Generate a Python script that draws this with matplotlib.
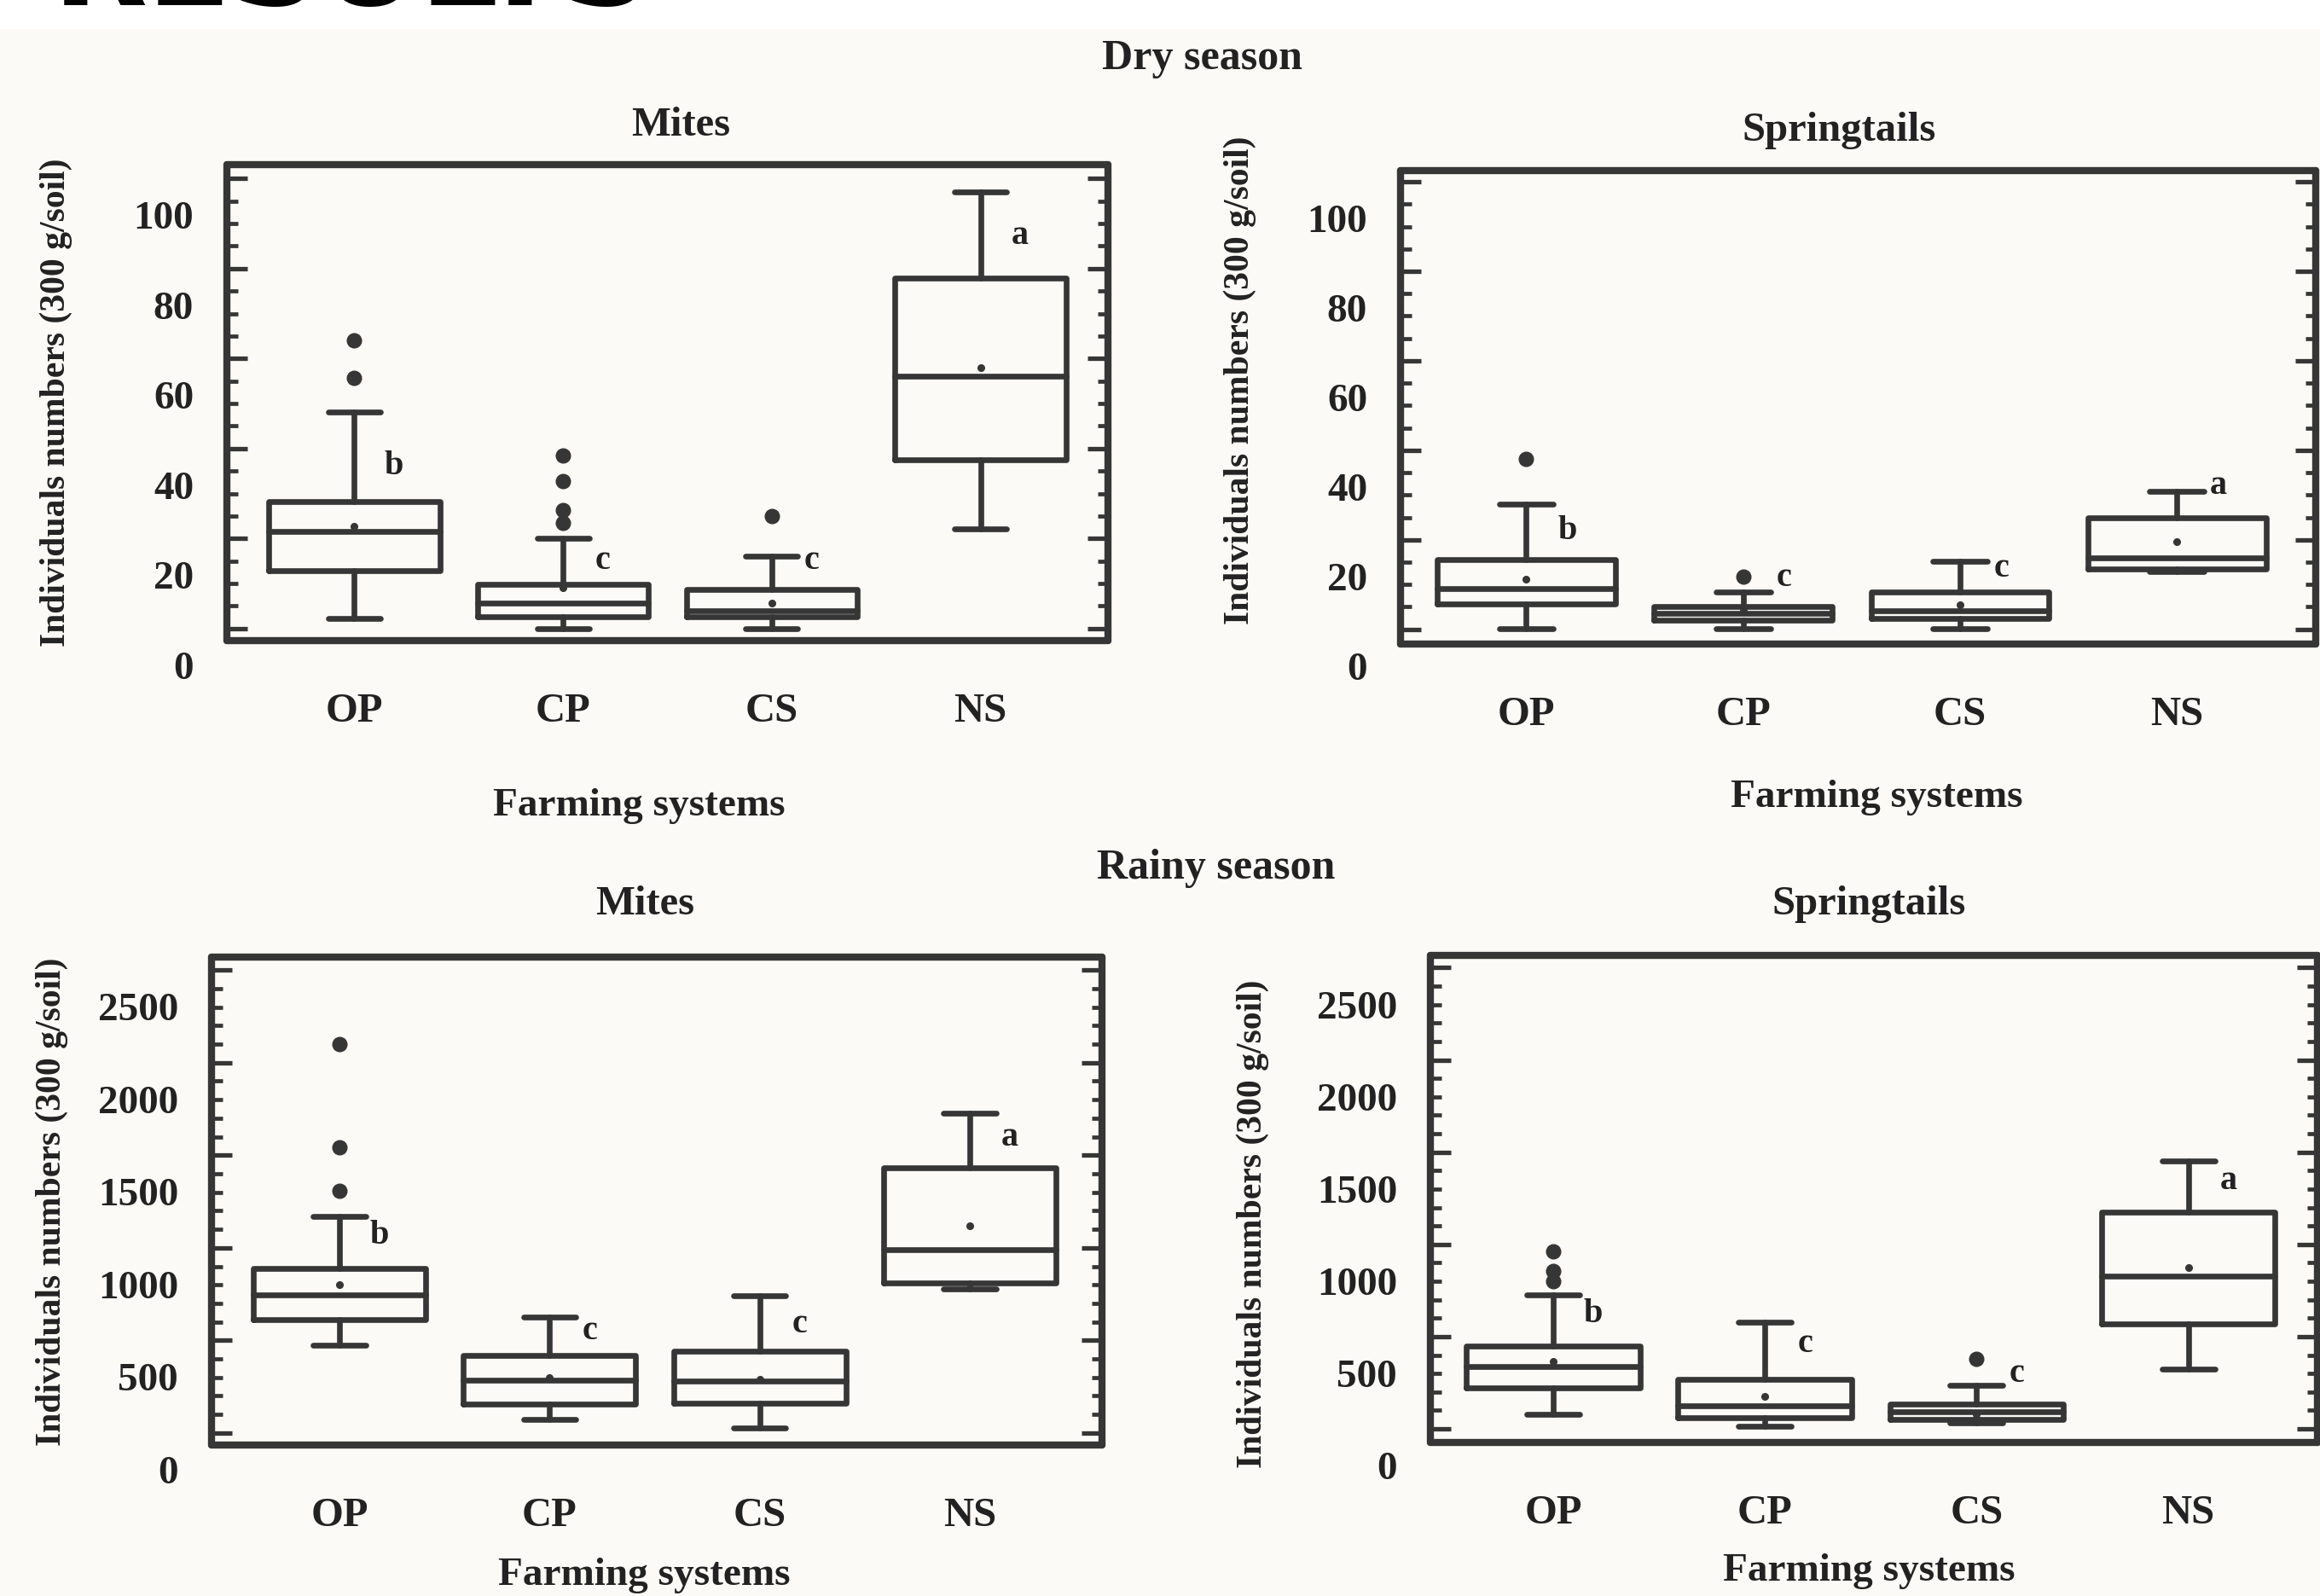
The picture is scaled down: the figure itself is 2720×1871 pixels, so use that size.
import matplotlib

matplotlib.use("Agg")

import matplotlib.pyplot as plt
import matplotlib.transforms as mtransforms
from matplotlib.patches import Rectangle
from matplotlib.ticker import MultipleLocator

W, H = 2720, 1871
INK = "#363636"

systems = ["OP", "CP", "CS", "NS"]

# dry season, mites
dry_mites_whislo = [2.2, 0.0, 0.0, 22.1]
dry_mites_q1 = [12.8, 2.6, 2.6, 37.5]
dry_mites_med = [21.6, 5.7, 3.9, 56.0]
dry_mites_q3 = [28.3, 9.9, 8.6, 77.9]
dry_mites_whishi = [48.2, 20.1, 16.0, 97.1]
dry_mites_mean = [22.7, 9.0, 5.7, 58.0]
dry_mites_fliers = [[64.1, 55.7], [38.5, 32.7, 26.4, 23.4], [25.0], []]
dry_mites_letters = ["b", "c", "c", "a"]
dry_mites_letter_y = [36.0, 15.0, 15.0, 87.3]

# dry season, springtails
dry_spring_whislo = [0.2, 0.2, 0.2, 12.9]
dry_spring_q1 = [5.6, 2.1, 2.5, 13.5]
dry_spring_med = [9.1, 3.6, 4.2, 16.0]
dry_spring_q3 = [15.5, 5.1, 8.3, 25.0]
dry_spring_whishi = [27.9, 8.3, 15.2, 30.8]
dry_spring_mean = [11.2, 4.2, 5.4, 19.5]
dry_spring_fliers = [[38.0], [11.7], [], []]
dry_spring_letters = ["b", "c", "c", "a"]
dry_spring_letter_y = [22.0, 11.4, 13.5, 32.0]

# rainy season, mites
rainy_mites_whislo = [473, 73, 27, 780]
rainy_mites_q1 = [611, 155, 163, 812]
rainy_mites_med = [744, 285, 282, 992]
rainy_mites_q3 = [888, 418, 440, 1432]
rainy_mites_whishi = [1168, 625, 739, 1725]
rainy_mites_mean = [799, 299, 291, 1119]
rainy_mites_fliers = [[2098, 1541, 1310], [], [], []]
rainy_mites_letters = ["b", "c", "c", "a"]
rainy_mites_letter_y = [1065, 549, 589, 1595]

# rainy season, springtails
rainy_spring_whislo = [80, 12, 34, 324]
rainy_spring_q1 = [221, 61, 53, 569]
rainy_spring_med = [338, 126, 93, 827]
rainy_spring_q3 = [447, 270, 134, 1175]
rainy_spring_whishi = [724, 577, 235, 1452]
rainy_spring_mean = [365, 175, 80, 876]
rainy_spring_fliers = [[963, 854, 800], [], [379], []]
rainy_spring_letters = ["b", "c", "c", "a"]
rainy_spring_letter_y = [623, 460, 297, 1343]


def fx(x):
    return x / W


def fy(y):
    return 1 - y / H


def make_stats(whislo, q1, med, q3, whishi, mean, fliers):
    return [
        dict(whislo=a, q1=b, med=c, q3=d, whishi=e, mean=m, fliers=f)
        for a, b, c, d, e, m, f in zip(whislo, q1, med, q3, whishi, mean, fliers)
    ]


plt.rcParams["font.family"] = ["Liberation Serif", "DejaVu Serif"]
plt.rcParams["font.weight"] = "bold"

fig = plt.figure(figsize=(W / 100, H / 100), dpi=100, facecolor="white")
fig.patches.append(
    Rectangle((0, 0), 1, fy(34), transform=fig.transFigure, facecolor="#fbfaf6",
              edgecolor="none", zorder=-10)
)
# heading of the page, mostly cropped off at the top edge
fig.text(fx(62), fy(6), "RESULTS", family="DejaVu Sans", weight="bold",
         fontsize=104, color="black", ha="left", va="baseline")

panels = [
    dict(rect=(266, 193, 1299, 751), xlim=(0.39, 4.61), ylim=(-2.7, 103.1),
         major=20, minor=5,
         stats=make_stats(dry_mites_whislo, dry_mites_q1, dry_mites_med, dry_mites_q3,
                          dry_mites_whishi, dry_mites_mean, dry_mites_fliers),
         letters=dry_mites_letters, letter_y=dry_mites_letter_y,
         title="Mites", title_xy=(798, 147), ylab_xy=(66, 472), xlab_xy=(749, 945)),
    dict(rect=(1642, 200, 2715, 755), xlim=(0.42, 4.64), ylim=(-3.3, 102.5),
         major=20, minor=5,
         stats=make_stats(dry_spring_whislo, dry_spring_q1, dry_spring_med, dry_spring_q3,
                          dry_spring_whishi, dry_spring_mean, dry_spring_fliers),
         letters=dry_spring_letters, letter_y=dry_spring_letter_y,
         title="Springtails", title_xy=(2156, 153), ylab_xy=(1454, 446), xlab_xy=(2200, 935)),
    dict(rect=(248, 1122, 1292, 1694), xlim=(0.39, 4.63), ylim=(-65, 2570),
         major=500, minor=100,
         stats=make_stats(rainy_mites_whislo, rainy_mites_q1, rainy_mites_med, rainy_mites_q3,
                          rainy_mites_whishi, rainy_mites_mean, rainy_mites_fliers),
         letters=rainy_mites_letters, letter_y=rainy_mites_letter_y,
         title="Mites", title_xy=(756, 1060), ylab_xy=(61, 1409), xlab_xy=(755, 1847)),
    dict(rect=(1677, 1120, 2717, 1691), xlim=(0.42, 4.61), ylim=(-74, 2567),
         major=500, minor=100,
         stats=make_stats(rainy_spring_whislo, rainy_spring_q1, rainy_spring_med,
                          rainy_spring_q3, rainy_spring_whishi, rainy_spring_mean,
                          rainy_spring_fliers),
         letters=rainy_spring_letters, letter_y=rainy_spring_letter_y,
         title="Springtails", title_xy=(2191, 1060), ylab_xy=(1469, 1435), xlab_xy=(2191, 1842)),
]

line = dict(color=INK, linewidth=4.8, solid_capstyle="round", solid_joinstyle="round")
label_shift = mtransforms.ScaledTranslation(0, -31 / 72, fig.dpi_scale_trans)

for p in panels:
    x0, y0, x1, y1 = p["rect"]
    ax = fig.add_axes([fx(x0), fy(y1), fx(x1) - fx(x0), fy(y0) - fy(y1)])
    ax.set_facecolor("none")
    ax.bxp(
        p["stats"], positions=[1, 2, 3, 4], widths=0.82, capwidths=0.25,
        showmeans=True, showfliers=True, manage_ticks=False,
        boxprops=line, whiskerprops=line, capprops=line, medianprops=line,
        meanprops=dict(marker="o", markersize=5.5, markerfacecolor=INK,
                       markeredgecolor=INK),
        flierprops=dict(marker="o", markersize=12, markerfacecolor=INK,
                        markeredgecolor=INK),
    )
    for i, (letter, ly) in enumerate(zip(p["letters"], p["letter_y"])):
        ax.text(i + 1.19, ly, letter, fontsize=29, color="#222222",
                ha="center", va="center")
    ax.set_xlim(*p["xlim"])
    ax.set_ylim(*p["ylim"])
    ax.set_xticks([1, 2, 3, 4], systems)
    ax.tick_params(axis="x", length=0, pad=44, labelsize=35, labelcolor="#222222")
    ax.yaxis.set_major_locator(MultipleLocator(p["major"]))
    ax.yaxis.set_minor_locator(MultipleLocator(p["minor"]))
    ax.tick_params(axis="y", which="major", direction="in", length=17, width=3.8,
                   left=True, right=True, color=INK, pad=28, labelsize=34,
                   labelcolor="#222222")
    ax.tick_params(axis="y", which="minor", direction="in", length=9, width=3.4,
                   left=True, right=True, color=INK)
    for lab in ax.get_yticklabels():
        lab.set_transform(lab.get_transform() + label_shift)
    for spine in ax.spines.values():
        spine.set_linewidth(6)
        spine.set_color(INK)
        spine.set_capstyle("round")

    fig.text(fx(p["title_xy"][0]), fy(p["title_xy"][1]), p["title"], fontsize=35,
             color="#222222", ha="center", va="center")
    fig.text(fx(p["ylab_xy"][0]), fy(p["ylab_xy"][1]), "Individuals numbers (300 g/soil)",
             fontsize=30, rotation=90, color="#222222", ha="center", va="center")
    fig.text(fx(p["xlab_xy"][0]), fy(p["xlab_xy"][1]), "Farming systems", fontsize=34,
             color="#222222", ha="center", va="center")

fig.text(fx(1409), fy(69), "Dry season", fontsize=36, color="#222222",
         ha="center", va="center")
fig.text(fx(1426), fy(1018), "Rainy season", fontsize=36, color="#222222",
         ha="center", va="center")

fig.savefig("out.png", dpi=100, facecolor=fig.get_facecolor())
